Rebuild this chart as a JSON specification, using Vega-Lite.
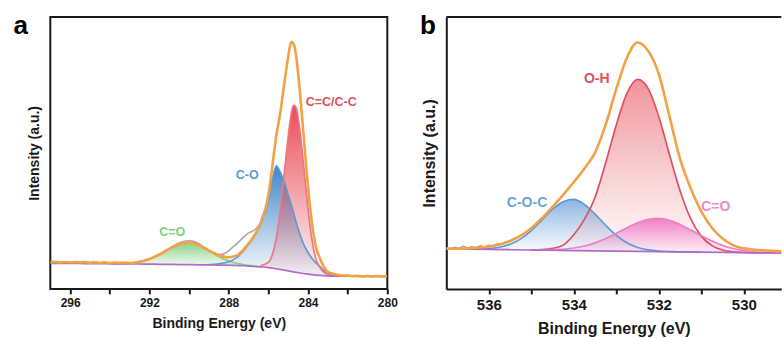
{
  "$schema": "https://vega.github.io/schema/vega-lite/v6.json",
  "background": "white",
  "padding": {"left": 12.3, "top": 10.9, "right": 0, "bottom": 0},
  "spacing": 59,
  "bounds": "flush",
  "resolve": {"scale": {"color": "independent"}},
  "config": {
    "font": "Liberation Sans",
    "axis": {"grid": false, "labelFont": "Liberation Sans", "titleFont": "Liberation Sans", "labelFontWeight": "bold", "titleFontWeight": "bold", "labelColor": "#1a1a1a", "titleColor": "#1a1a1a", "tickColor": "#1a1a1a", "domainColor": "#1a1a1a"},
    "text": {"font": "Liberation Sans", "fontWeight": "bold"}
  },
  "datasets": {
    "a": [
      {"s":"C=O","e":294,"y":9.27,"b":9.25},{"s":"C=O","e":293.5,"y":9.28,"b":9.2},{"s":"C=O","e":293,"y":9.48,"b":9.2},{"s":"C=O","e":292.5,"y":9.95,"b":9.15},{"s":"C=O","e":292,"y":10.98,"b":9.1},{"s":"C=O","e":291.5,"y":12.65,"b":9.05},{"s":"C=O","e":291,"y":14.7,"b":9.0},{"s":"C=O","e":290.5,"y":16.45,"b":8.95},{"s":"C=O","e":290,"y":17.0,"b":8.9},{"s":"C=O","e":289.5,"y":16.05,"b":8.85},{"s":"C=O","e":289,"y":14.1,"b":8.8},{"s":"C=O","e":288.5,"y":11.95,"b":8.75},{"s":"C=O","e":288,"y":10.3,"b":8.7},{"s":"C=O","e":287.6,"y":9.4,"b":8.6},{"s":"C=O","e":287.2,"y":8.86,"b":8.5},{"s":"C=O","e":286.8,"y":8.44,"b":8.3},{"s":"C=O","e":286.4,"y":8.15,"b":8.1},
      {"s":"C-O","e":289,"y":8.95,"b":8.8},{"s":"C-O","e":288.5,"y":9.25,"b":8.75},{"s":"C-O","e":288,"y":10.0,"b":8.7},{"s":"C-O","e":287.6,"y":11.5,"b":8.6},{"s":"C-O","e":287.2,"y":14.5,"b":8.5},{"s":"C-O","e":286.8,"y":18.3,"b":8.3},{"s":"C-O","e":286.4,"y":23.6,"b":8.1},{"s":"C-O","e":286.0,"y":32.35,"b":7.85},{"s":"C-O","e":285.8,"y":40.15,"b":7.65},{"s":"C-O","e":285.6,"y":45.2,"b":7.4},{"s":"C-O","e":285.4,"y":42.9,"b":7.15},{"s":"C-O","e":285.2,"y":39.4,"b":6.9},{"s":"C-O","e":285.0,"y":34.6,"b":6.6},{"s":"C-O","e":284.8,"y":29.85,"b":6.35},{"s":"C-O","e":284.7,"y":27.2,"b":6.2},{"s":"C-O","e":284.6,"y":24.6,"b":6.1},{"s":"C-O","e":284.4,"y":19.85,"b":5.85},{"s":"C-O","e":284.2,"y":16.1,"b":5.6},{"s":"C-O","e":284.0,"y":13.4,"b":5.4},{"s":"C-O","e":283.8,"y":11.2,"b":5.2},{"s":"C-O","e":283.6,"y":9.55,"b":5.05},{"s":"C-O","e":283.4,"y":8.25,"b":4.95},{"s":"C-O","e":283.0,"y":5.7,"b":4.8},{"s":"C-O","e":282.5,"y":5.0,"b":4.7},{"s":"C-O","e":282.0,"y":4.75,"b":4.65},
      {"s":"C=C/C-C","e":286.4,"y":8.5,"b":8.1},{"s":"C=C/C-C","e":286.0,"y":9.75,"b":7.85},{"s":"C=C/C-C","e":285.8,"y":12.55,"b":7.65},{"s":"C=C/C-C","e":285.6,"y":18.6,"b":7.4},{"s":"C=C/C-C","e":285.4,"y":28.75,"b":7.15},{"s":"C=C/C-C","e":285.2,"y":42.3,"b":6.9},{"s":"C=C/C-C","e":285.0,"y":56.1,"b":6.6},{"s":"C=C/C-C","e":284.8,"y":66.15,"b":6.35},{"s":"C=C/C-C","e":284.7,"y":67.6,"b":6.2},{"s":"C=C/C-C","e":284.6,"y":66.7,"b":6.1},{"s":"C=C/C-C","e":284.4,"y":57.85,"b":5.85},{"s":"C=C/C-C","e":284.2,"y":44.0,"b":5.6},{"s":"C=C/C-C","e":284.0,"y":29.5,"b":5.4},{"s":"C=C/C-C","e":283.8,"y":18.1,"b":5.2},{"s":"C=C/C-C","e":283.6,"y":10.95,"b":5.05},{"s":"C=C/C-C","e":283.4,"y":7.95,"b":4.95},{"s":"C=C/C-C","e":283.0,"y":5.4,"b":4.8},{"s":"C=C/C-C","e":282.5,"y":5.0,"b":4.7},{"s":"C=C/C-C","e":282.0,"y":4.75,"b":4.65},
      {"s":"bg","e":297,"y":9.4},{"s":"bg","e":296.5,"y":9.4},{"s":"bg","e":296,"y":9.35},{"s":"bg","e":295.5,"y":9.35},{"s":"bg","e":295,"y":9.3},{"s":"bg","e":294.5,"y":9.3},{"s":"bg","e":294,"y":9.25},{"s":"bg","e":293.5,"y":9.2},{"s":"bg","e":293,"y":9.2},{"s":"bg","e":292.5,"y":9.15},{"s":"bg","e":292,"y":9.1},{"s":"bg","e":291.5,"y":9.05},{"s":"bg","e":291,"y":9.0},{"s":"bg","e":290.5,"y":8.95},{"s":"bg","e":290,"y":8.9},{"s":"bg","e":289.5,"y":8.85},{"s":"bg","e":289,"y":8.8},{"s":"bg","e":288.5,"y":8.75},{"s":"bg","e":288,"y":8.7},{"s":"bg","e":287.6,"y":8.6},{"s":"bg","e":287.2,"y":8.5},{"s":"bg","e":286.8,"y":8.3},{"s":"bg","e":286.4,"y":8.1},{"s":"bg","e":286,"y":7.85},{"s":"bg","e":285.6,"y":7.4},{"s":"bg","e":285.2,"y":6.9},{"s":"bg","e":284.8,"y":6.35},{"s":"bg","e":284.4,"y":5.85},{"s":"bg","e":284,"y":5.4},{"s":"bg","e":283.6,"y":5.05},{"s":"bg","e":283,"y":4.8},{"s":"bg","e":282.5,"y":4.7},{"s":"bg","e":282,"y":4.65},{"s":"bg","e":281,"y":4.6},{"s":"bg","e":280,"y":4.6},
      {"s":"raw","e":291.0,"y":14.9},{"s":"raw","e":290.75,"y":16.0},{"s":"raw","e":290.5,"y":16.9},{"s":"raw","e":290.25,"y":17.5},{"s":"raw","e":290.0,"y":17.7},{"s":"raw","e":289.75,"y":17.4},{"s":"raw","e":289.5,"y":16.6},{"s":"raw","e":289.25,"y":15.3},{"s":"raw","e":289.0,"y":14.3},{"s":"raw","e":288.75,"y":13.3},{"s":"raw","e":288.5,"y":12.7},{"s":"raw","e":288.25,"y":12.9},{"s":"raw","e":288.0,"y":14.0},{"s":"raw","e":287.75,"y":15.6},{"s":"raw","e":287.5,"y":17.2},{"s":"raw","e":287.25,"y":19.0},{"s":"raw","e":287.0,"y":20.6},{"s":"raw","e":286.8,"y":21.2},{"s":"raw","e":286.6,"y":22.3},{"s":"raw","e":286.4,"y":24.3},{"s":"raw","e":286.2,"y":28.5},
      {"s":"env","e":297,"y":9.8},{"s":"env","e":296.75,"y":9.95},{"s":"env","e":296.5,"y":9.75},{"s":"env","e":296.25,"y":9.9},{"s":"env","e":296,"y":9.7},{"s":"env","e":295.75,"y":9.85},{"s":"env","e":295.5,"y":9.75},{"s":"env","e":295.25,"y":9.9},{"s":"env","e":295,"y":9.6},{"s":"env","e":294.75,"y":9.75},{"s":"env","e":294.5,"y":9.6},{"s":"env","e":294.25,"y":9.8},{"s":"env","e":294,"y":9.5},{"s":"env","e":293.75,"y":9.7},{"s":"env","e":293.5,"y":9.55},{"s":"env","e":293.25,"y":9.6},{"s":"env","e":293,"y":9.5},{"s":"env","e":292.5,"y":9.95},{"s":"env","e":292,"y":11.0},{"s":"env","e":291.5,"y":12.65},{"s":"env","e":291,"y":14.7},{"s":"env","e":290.5,"y":16.45},{"s":"env","e":290,"y":17.0},{"s":"env","e":289.5,"y":16.05},{"s":"env","e":289,"y":14.1},{"s":"env","e":288.5,"y":12.4},{"s":"env","e":288,"y":11.6},{"s":"env","e":287.6,"y":12.3},{"s":"env","e":287.2,"y":14.9},{"s":"env","e":286.8,"y":18.6},{"s":"env","e":286.4,"y":24.1},{"s":"env","e":286.0,"y":34.3},{"s":"env","e":285.8,"y":45.05},{"s":"env","e":285.6,"y":56.3},{"s":"env","e":285.4,"y":64.6},{"s":"env","e":285.2,"y":75.4},{"s":"env","e":285.0,"y":85.3},{"s":"env","e":284.85,"y":90.8},{"s":"env","e":284.7,"y":89.6},{"s":"env","e":284.6,"y":85.6},{"s":"env","e":284.4,"y":71.85},{"s":"env","e":284.2,"y":54.5},{"s":"env","e":284.0,"y":37.5},{"s":"env","e":283.8,"y":24.1},{"s":"env","e":283.6,"y":15.45},{"s":"env","e":283.4,"y":11.25},{"s":"env","e":283.0,"y":6.3},{"s":"env","e":282.75,"y":5.6},{"s":"env","e":282.5,"y":5.2},{"s":"env","e":282.25,"y":4.9},{"s":"env","e":282.0,"y":4.95},{"s":"env","e":281.75,"y":4.7},{"s":"env","e":281.5,"y":4.8},{"s":"env","e":281.25,"y":4.6},{"s":"env","e":281.0,"y":4.75},{"s":"env","e":280.75,"y":4.6},{"s":"env","e":280.5,"y":4.7},{"s":"env","e":280.25,"y":4.55},{"s":"env","e":280,"y":4.7}
    ],
    "b": [
      {"s":"C-O-C","e":536.5,"y":14.63,"b":14.6},{"s":"C-O-C","e":536.0,"y":14.83,"b":14.5},{"s":"C-O-C","e":535.75,"y":15.31,"b":14.45},{"s":"C-O-C","e":535.5,"y":16.39,"b":14.4},{"s":"C-O-C","e":535.25,"y":18.38,"b":14.35},{"s":"C-O-C","e":535.0,"y":21.45,"b":14.3},{"s":"C-O-C","e":534.75,"y":25.35,"b":14.25},{"s":"C-O-C","e":534.5,"y":29.3,"b":14.2},{"s":"C-O-C","e":534.25,"y":32.05,"b":14.15},{"s":"C-O-C","e":534.0,"y":32.9,"b":14.1},{"s":"C-O-C","e":533.75,"y":31.05,"b":14.05},{"s":"C-O-C","e":533.5,"y":27.5,"b":14.0},{"s":"C-O-C","e":533.25,"y":23.4,"b":13.95},{"s":"C-O-C","e":533.0,"y":19.68,"b":13.9},{"s":"C-O-C","e":532.75,"y":16.94,"b":13.85},{"s":"C-O-C","e":532.5,"y":15.24,"b":13.8},{"s":"C-O-C","e":532.25,"y":14.34,"b":13.75},{"s":"C-O-C","e":532.0,"y":13.91,"b":13.7},{"s":"C-O-C","e":531.75,"y":13.72,"b":13.65},{"s":"C-O-C","e":531.5,"y":13.62,"b":13.6},{"s":"C-O-C","e":531.0,"y":13.5,"b":13.5},
      {"s":"O-H","e":535.0,"y":14.36,"b":14.3},{"s":"O-H","e":534.75,"y":14.46,"b":14.25},{"s":"O-H","e":534.5,"y":14.89,"b":14.2},{"s":"O-H","e":534.25,"y":16.1,"b":14.15},{"s":"O-H","e":534.0,"y":19.9,"b":14.1},{"s":"O-H","e":533.75,"y":25.55,"b":14.05},{"s":"O-H","e":533.5,"y":33.7,"b":14.0},{"s":"O-H","e":533.25,"y":46.35,"b":13.95},{"s":"O-H","e":533.0,"y":60.3,"b":13.9},{"s":"O-H","e":532.75,"y":71.85,"b":13.85},{"s":"O-H","e":532.5,"y":77.0,"b":13.8},{"s":"O-H","e":532.25,"y":73.65,"b":13.75},{"s":"O-H","e":532.0,"y":63.3,"b":13.7},{"s":"O-H","e":531.75,"y":49.45,"b":13.65},{"s":"O-H","e":531.5,"y":36.1,"b":13.6},{"s":"O-H","e":531.25,"y":25.85,"b":13.55},{"s":"O-H","e":531.0,"y":19.4,"b":13.5},{"s":"O-H","e":530.75,"y":15.91,"b":13.45},{"s":"O-H","e":530.5,"y":14.29,"b":13.4},{"s":"O-H","e":530.25,"y":13.63,"b":13.35},{"s":"O-H","e":530.0,"y":13.38,"b":13.3},{"s":"O-H","e":529.5,"y":13.21,"b":13.2},
      {"s":"C=O","e":535.0,"y":14.34,"b":14.3},{"s":"C=O","e":534.5,"y":14.42,"b":14.2},{"s":"C=O","e":534.0,"y":15.04,"b":14.1},{"s":"C=O","e":533.75,"y":15.78,"b":14.05},{"s":"C=O","e":533.5,"y":16.93,"b":14.0},{"s":"C=O","e":533.25,"y":18.51,"b":13.95},{"s":"C=O","e":533.0,"y":20.45,"b":13.9},{"s":"C=O","e":532.75,"y":22.51,"b":13.85},{"s":"C=O","e":532.5,"y":24.3,"b":13.8},{"s":"C=O","e":532.25,"y":25.55,"b":13.75},{"s":"C=O","e":532.0,"y":25.9,"b":13.7},{"s":"C=O","e":531.75,"y":25.25,"b":13.65},{"s":"C=O","e":531.5,"y":23.7,"b":13.6},{"s":"C=O","e":531.25,"y":21.71,"b":13.55},{"s":"C=O","e":531.0,"y":19.55,"b":13.5},{"s":"C=O","e":530.75,"y":17.58,"b":13.45},{"s":"C=O","e":530.5,"y":16.0,"b":13.4},{"s":"C=O","e":530.25,"y":14.85,"b":13.35},{"s":"C=O","e":530.0,"y":14.1,"b":13.3},{"s":"C=O","e":529.5,"y":13.38,"b":13.2},{"s":"C=O","e":529.0,"y":13.13,"b":13.1},
      {"s":"bg","e":537,"y":14.7},{"s":"bg","e":536,"y":14.5},{"s":"bg","e":535,"y":14.3},{"s":"bg","e":534,"y":14.1},{"s":"bg","e":533,"y":13.9},{"s":"bg","e":532,"y":13.7},{"s":"bg","e":531,"y":13.5},{"s":"bg","e":530,"y":13.3},{"s":"bg","e":529,"y":13.1},
      {"s":"raw","e":537,"y":15.1},{"s":"raw","e":536.9,"y":14.7},{"s":"raw","e":536.8,"y":15.3},{"s":"raw","e":536.7,"y":14.9},{"s":"raw","e":536.6,"y":15.6},{"s":"raw","e":536.5,"y":15.0},{"s":"raw","e":536.4,"y":15.5},{"s":"raw","e":536.3,"y":15.1},{"s":"raw","e":536.2,"y":15.8},{"s":"raw","e":536.1,"y":15.4},{"s":"raw","e":536.0,"y":16.0},{"s":"raw","e":535.9,"y":15.8},{"s":"raw","e":535.8,"y":16.5},{"s":"raw","e":535.7,"y":16.6},{"s":"raw","e":535.6,"y":17.3},{"s":"raw","e":535.5,"y":17.6},{"s":"raw","e":535.4,"y":18.6},{"s":"raw","e":535.3,"y":19.0},
      {"s":"env","e":537,"y":14.8},{"s":"env","e":536.75,"y":14.75},{"s":"env","e":536.5,"y":14.9},{"s":"env","e":536.25,"y":15.2},{"s":"env","e":536,"y":15.6},{"s":"env","e":535.75,"y":16.3},{"s":"env","e":535.5,"y":17.6},{"s":"env","e":535.25,"y":19.6},{"s":"env","e":535.0,"y":22.3},{"s":"env","e":534.75,"y":26.0},{"s":"env","e":534.5,"y":30.2},{"s":"env","e":534.25,"y":34.6},{"s":"env","e":534.0,"y":39.3},{"s":"env","e":533.75,"y":44.3},{"s":"env","e":533.5,"y":50.1},{"s":"env","e":533.25,"y":60.4},{"s":"env","e":533.0,"y":73.5},{"s":"env","e":532.75,"y":85.0},{"s":"env","e":532.5,"y":90.6},{"s":"env","e":532.25,"y":87.5},{"s":"env","e":532.0,"y":79.0},{"s":"env","e":531.75,"y":63.5},{"s":"env","e":531.5,"y":47.8},{"s":"env","e":531.25,"y":37.0},{"s":"env","e":531.0,"y":28.5},{"s":"env","e":530.75,"y":22.5},{"s":"env","e":530.5,"y":18.5},{"s":"env","e":530.25,"y":16.0},{"s":"env","e":530.0,"y":14.9},{"s":"env","e":529.75,"y":14.4},{"s":"env","e":529.5,"y":14.1},{"s":"env","e":529.25,"y":13.9},{"s":"env","e":529.0,"y":13.8}
    ]
  },
  "hconcat": [
    {
      "width": 337,
      "height": 272,
      "view": {"stroke": "#1a1a1a", "strokeWidth": 2},
      "layer": [
        {"data": {"name": "a"},
         "transform": [{"filter": "datum.s === 'C=O'"}],
         "mark": {"type": "area", "interpolate": "monotone", "clip": true,
                  "fill": {"gradient": "linear", "x1": 0, "y1": 1, "x2": 0, "y2": 0, "stops": [{"offset": 0, "color": "rgba(120,205,120,0.08)"}, {"offset": 1, "color": "rgba(105,198,105,0.8)"}]}},
         "encoding": {
           "x": {"field": "e", "type": "quantitative",
                 "scale": {"domain": [280, 297], "reverse": true, "nice": false, "zero": false},
                 "axis": {"title": "Binding Energy (eV)", "values": [296, 294, 292, 290, 288, 286, 284, 282, 280], "labelExpr": "datum.value % 4 === 0 ? datum.label : ''", "domain": false, "tickSize": 5, "tickWidth": 2, "labelFontSize": 12, "labelPadding": 4, "labelFlush": false, "labelOverlap": false, "titleFontSize": 14, "titlePadding": 8}},
           "y": {"field": "y", "type": "quantitative",
                 "scale": {"domain": [0, 100], "nice": false, "zero": false},
                 "axis": {"title": "Intensity (a.u.)", "domain": false, "ticks": false, "labels": false, "titleFontSize": 14, "titlePadding": 9}},
           "y2": {"field": "b"}}},
        {"data": {"name": "a"},
         "transform": [{"filter": "datum.s === 'C-O'"}],
         "mark": {"type": "area", "interpolate": "monotone", "clip": true,
                  "fill": {"gradient": "linear", "x1": 0, "y1": 1, "x2": 0, "y2": 0, "stops": [{"offset": 0, "color": "rgba(70,135,200,0.04)"}, {"offset": 1, "color": "rgba(52,126,196,0.95)"}]}},
         "encoding": {"x": {"field": "e", "type": "quantitative"}, "y": {"field": "y", "type": "quantitative"}, "y2": {"field": "b"}}},
        {"data": {"name": "a"},
         "transform": [{"filter": "datum.s === 'C=C/C-C'"}],
         "mark": {"type": "area", "interpolate": "monotone", "clip": true,
                  "fill": {"gradient": "linear", "x1": 0, "y1": 1, "x2": 0, "y2": 0, "stops": [{"offset": 0, "color": "rgba(232,70,80,0.05)"}, {"offset": 1, "color": "rgba(232,66,78,0.95)"}]}},
         "encoding": {"x": {"field": "e", "type": "quantitative"}, "y": {"field": "y", "type": "quantitative"}, "y2": {"field": "b"}}},
        {"data": {"name": "a"},
         "transform": [{"filter": "datum.s !== 'env'"}],
         "mark": {"type": "line", "interpolate": "monotone", "clip": true, "strokeWidth": 1.7},
         "encoding": {"x": {"field": "e", "type": "quantitative"}, "y": {"field": "y", "type": "quantitative"},
                      "color": {"field": "s", "type": "nominal", "legend": null,
                                "scale": {"domain": ["C=O", "C-O", "C=C/C-C", "bg", "raw"], "range": ["#86d08a", "#5c9bd6", "#ee7681", "#b06ac8", "#a8a8a8"]}}}},
        {"data": {"name": "a"},
         "transform": [{"filter": "datum.s === 'env'"}],
         "mark": {"type": "line", "interpolate": "monotone", "clip": true, "strokeWidth": 2.6, "color": "#f3a145"},
         "encoding": {"x": {"field": "e", "type": "quantitative"}, "y": {"field": "y", "type": "quantitative"}}},
        {"data": {"values": [{}]}, "mark": {"type": "text", "fontSize": 12.5, "fontWeight": "bold", "color": "#e3505d"},
         "encoding": {"x": {"datum": 282.83}, "y": {"datum": 68.75}, "text": {"value": "C=C/C-C"}}},
        {"data": {"values": [{}]}, "mark": {"type": "text", "fontSize": 12.5, "fontWeight": "bold", "color": "#5c9bd6"},
         "encoding": {"x": {"datum": 287.07}, "y": {"datum": 41.9}, "text": {"value": "C-O"}}},
        {"data": {"values": [{}]}, "mark": {"type": "text", "fontSize": 12.5, "fontWeight": "bold", "color": "#7ed07e"},
         "encoding": {"x": {"datum": 290.85}, "y": {"datum": 20.8}, "text": {"value": "C=O"}}},
        {"data": {"values": [{}]}, "mark": {"type": "text", "fontSize": 26, "fontWeight": "bold", "color": "#000000", "baseline": "alphabetic", "align": "center"},
         "encoding": {"x": {"datum": 298.49}, "y": {"datum": 93.86}, "text": {"value": "a"}}}
      ]
    },
    {
      "width": 335,
      "height": 272,
      "view": {"stroke": null},
      "layer": [
        {"data": {"name": "b"},
         "transform": [{"filter": "datum.s === 'C-O-C'"}],
         "mark": {"type": "area", "interpolate": "monotone", "clip": true,
                  "fill": {"gradient": "linear", "x1": 0, "y1": 1, "x2": 0, "y2": 0, "stops": [{"offset": 0, "color": "rgba(120,170,220,0.05)"}, {"offset": 1, "color": "rgba(100,155,210,0.75)"}]}},
         "encoding": {
           "x": {"field": "e", "type": "quantitative",
                 "scale": {"domain": [529.118, 537], "reverse": true, "nice": false, "zero": false},
                 "axis": {"title": "Binding Energy (eV)", "values": [536, 535, 534, 533, 532, 531, 530], "labelExpr": "datum.value % 2 === 0 ? datum.label : ''", "domain": true, "domainWidth": 2, "tickSize": 5, "tickWidth": 2, "labelFontSize": 15, "labelPadding": 4, "labelFlush": false, "labelOverlap": false, "titleFontSize": 16, "titlePadding": 8}},
           "y": {"field": "y", "type": "quantitative",
                 "scale": {"domain": [0, 100], "nice": false, "zero": false},
                 "axis": {"title": "Intensity (a.u.)", "domain": true, "domainWidth": 2, "ticks": false, "labels": false, "titleFontSize": 16, "titlePadding": 9}},
           "y2": {"field": "b"}}},
        {"data": {"name": "b"},
         "transform": [{"filter": "datum.s === 'O-H'"}],
         "mark": {"type": "area", "interpolate": "monotone", "clip": true,
                  "fill": {"gradient": "linear", "x1": 0, "y1": 1, "x2": 0, "y2": 0, "stops": [{"offset": 0, "color": "rgba(240,130,140,0.04)"}, {"offset": 1, "color": "rgba(232,100,110,0.7)"}]}},
         "encoding": {"x": {"field": "e", "type": "quantitative"}, "y": {"field": "y", "type": "quantitative"}, "y2": {"field": "b"}}},
        {"data": {"name": "b"},
         "transform": [{"filter": "datum.s === 'C=O'"}],
         "mark": {"type": "area", "interpolate": "monotone", "clip": true,
                  "fill": {"gradient": "linear", "x1": 0, "y1": 1, "x2": 0, "y2": 0, "stops": [{"offset": 0, "color": "rgba(240,130,200,0.08)"}, {"offset": 1, "color": "rgba(236,110,190,0.85)"}]}},
         "encoding": {"x": {"field": "e", "type": "quantitative"}, "y": {"field": "y", "type": "quantitative"}, "y2": {"field": "b"}}},
        {"data": {"name": "b"},
         "transform": [{"filter": "datum.s !== 'env'"}],
         "mark": {"type": "line", "interpolate": "monotone", "clip": true, "strokeWidth": 1.7},
         "encoding": {"x": {"field": "e", "type": "quantitative"}, "y": {"field": "y", "type": "quantitative"},
                      "color": {"field": "s", "type": "nominal", "legend": null,
                                "scale": {"domain": ["C-O-C", "O-H", "C=O", "bg", "raw"], "range": ["#5a9bd4", "#e05060", "#ee7fc6", "#b06ac8", "#a8a8a8"]}}}},
        {"data": {"name": "b"},
         "transform": [{"filter": "datum.s === 'env'"}],
         "mark": {"type": "line", "interpolate": "monotone", "clip": true, "strokeWidth": 2.6, "color": "#f3a145"},
         "encoding": {"x": {"field": "e", "type": "quantitative"}, "y": {"field": "y", "type": "quantitative"}}},
        {"data": {"values": [{}]}, "mark": {"type": "rule", "color": "#1a1a1a", "strokeWidth": 2},
         "encoding": {"y": {"datum": 100}}},
        {"data": {"values": [{}]}, "mark": {"type": "text", "fontSize": 14, "fontWeight": "bold", "color": "#e0505f"},
         "encoding": {"x": {"datum": 533.46}, "y": {"datum": 77.3}, "text": {"value": "O-H"}}},
        {"data": {"values": [{}]}, "mark": {"type": "text", "fontSize": 14, "fontWeight": "bold", "color": "#6aa4da"},
         "encoding": {"x": {"datum": 535.1}, "y": {"datum": 31.6}, "text": {"value": "C-O-C"}}},
        {"data": {"values": [{}]}, "mark": {"type": "text", "fontSize": 14, "fontWeight": "bold", "color": "#f08ac9"},
         "encoding": {"x": {"datum": 530.66}, "y": {"datum": 30.1}, "text": {"value": "C=O"}}},
        {"data": {"values": [{}]}, "mark": {"type": "text", "fontSize": 26, "fontWeight": "bold", "color": "#000000", "baseline": "alphabetic", "align": "center"},
         "encoding": {"x": {"datum": 537.43}, "y": {"datum": 93.86}, "text": {"value": "b"}}}
      ]
    }
  ]
}
